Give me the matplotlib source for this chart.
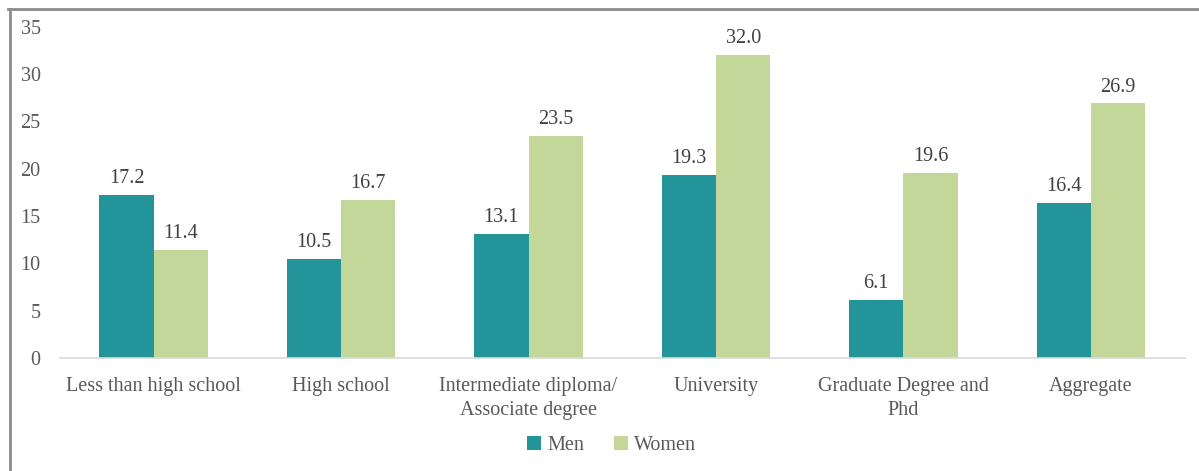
import numpy as np
import matplotlib.pyplot as plt
from matplotlib.lines import Line2D

categories = ["Less than high school", "High school",
              "Intermediate diploma/\nAssociate degree", "University",
              "Graduate Degree and\nPhd", "Aggregate"]
men = [17.2, 10.5, 13.1, 19.3, 6.1, 16.4]
women = [11.4, 16.7, 23.5, 32.0, 19.6, 26.9]

plt.rcParams['font.family'] = ['Liberation Serif', 'DejaVu Serif']
text_color = '#595959'
men_color = '#23959a'
women_color = '#c4d79b'

fig = plt.figure(figsize=(11.99, 4.71), dpi=100)
ax = fig.add_axes([0.050, 0.240, 0.938, 0.703])

x = np.arange(len(categories))
w = 0.29
b1 = ax.bar(x - w / 2, men, w, color=men_color, label='Men')
b2 = ax.bar(x + w / 2, women, w, color=women_color, label='Women')

for bars in (b1, b2):
    for rect in bars:
        h = rect.get_height()
        ax.annotate(f'{h:.1f}', (rect.get_x() + rect.get_width() / 2, h),
                    xytext=(0, 5), textcoords='offset points',
                    ha='center', va='bottom', fontsize=14.5, color='#404040')

ax.set_xlim(-0.5, len(categories) - 0.5)
ax.set_ylim(0, 35)
ax.set_yticks(range(0, 36, 5))
ax.set_xticks(x)
ax.set_xticklabels(categories, linespacing=1.35)
ax.tick_params(axis='both', length=0, labelsize=14.5, labelcolor=text_color)
ax.tick_params(axis='y', pad=14)
ax.tick_params(axis='x', pad=14)
for s in ['top', 'right', 'left']:
    ax.spines[s].set_visible(False)
ax.spines['bottom'].set_color('#d9d9d9')
ax.spines['bottom'].set_linewidth(1.2)

leg = fig.legend(loc='center', bbox_to_anchor=(0.51, 0.055), ncol=2,
                 frameon=False, fontsize=14.5, handlelength=0.7,
                 handleheight=0.7, handletextpad=0.3, columnspacing=1.5)
for t in leg.get_texts():
    t.set_color(text_color)

# chart frame (top and left edges visible)
fig.add_artist(Line2D([0.007, 1.0], [0.981, 0.981], color='#8c8c8c', lw=2,
                      transform=fig.transFigure))
fig.add_artist(Line2D([0.008, 0.008], [0.0, 0.981], color='#8c8c8c', lw=2,
                      transform=fig.transFigure))

fig.savefig('out.png', dpi=100)
